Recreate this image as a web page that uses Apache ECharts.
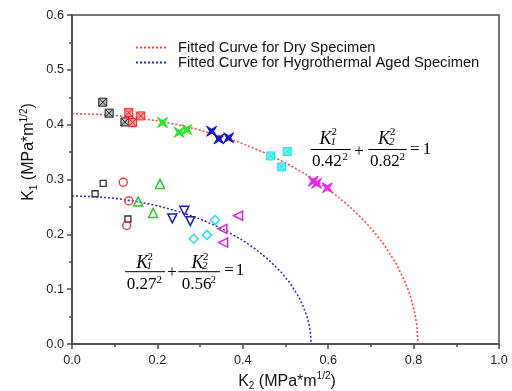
<!DOCTYPE html>
<html>
<head>
<meta charset="utf-8">
<script src="https://cdn.jsdelivr.net/npm/echarts@6/dist/echarts.min.js"></script>
<style>
html,body{margin:0;padding:0;background:#fff;}
#c{width:512px;height:391px;}
</style>
</head>
<body>
<div id="c"></div>
<script>
// ---- data ----
var xTicks = [0, 0.2, 0.4, 0.6, 0.8, 1.0];
var yTicks = [0, 0.1, 0.2, 0.3, 0.4, 0.5, 0.6];

// Dry specimen [K2, K1]
var dryBlack   = [[0.072,0.441],[0.087,0.421],[0.124,0.405]];
var dryRed     = [[0.133,0.422],[0.142,0.404],[0.161,0.416]];
var dryGreen   = [[0.212,0.404],[0.251,0.386],[0.269,0.391]];
var dryBlue    = [[0.327,0.388],[0.344,0.374],[0.367,0.376]];
var dryCyan    = [[0.465,0.343],[0.504,0.351],[0.491,0.323]];
var dryMagenta = [[0.565,0.297],[0.573,0.293],[0.598,0.285]];

// Hygrothermal aged specimen [K2, K1]
var hygBlack   = [[0.054,0.274],[0.073,0.293],[0.131,0.228]];
var hygRed     = [[0.120,0.295],[0.133,0.261],[0.128,0.216]];
var hygGreen   = [[0.155,0.260],[0.190,0.239],[0.206,0.292]];
var hygBlue    = [[0.235,0.229],[0.263,0.243],[0.277,0.224]];
var hygCyan    = [[0.285,0.192],[0.316,0.199],[0.335,0.226]];
var hygMagenta = [[0.352,0.210],[0.354,0.185],[0.389,0.234]];

// Fitted curves (points along the curves)
var dryCurveK2 = [0,0.05,0.1,0.15,0.2,0.25,0.3,0.35,0.4,0.45,0.5,0.55,0.6,0.62,0.65,0.68,0.7,0.73,0.76,0.78,0.79,0.8,0.805,0.808,0.81];
var dryCurveK1 = [0.42,0.4192,0.4168,0.4127,0.407,0.3995,0.3901,0.3788,0.3652,0.3492,0.3304,0.3083,0.2822,0.2703,0.2506,0.2282,0.2113,0.182,0.1453,0.1132,0.0928,0.0658,0.0467,0.0295,0];
var hygCurveK2 = [0,0.05,0.1,0.15,0.2,0.25,0.3,0.35,0.4,0.43,0.46,0.49,0.51,0.53,0.54,0.55,0.555,0.558,0.559,0.56];
var hygCurveK1 = [0.27,0.2689,0.2657,0.2601,0.2522,0.2416,0.228,0.2108,0.189,0.173,0.154,0.1307,0.1115,0.0872,0.0715,0.0508,0.036,0.0228,0.0161,0];

var legendNames = ['Fitted Curve for Dry Specimen','Fitted Curve for Hygrothermal Aged Specimen'];

function zip(a,b){ return a.map(function(v,i){ return [v,b[i]]; }); }

var SQX = 'path://M0,0H10V10H0Z M0,0L10,10 M10,0L0,10';
var STAR = 'path://M0,0L5,3L10,0L7,5L10,10L5,7L0,10L3,5Z';

function sc(data, symbol, size, fill, stroke, bw, rot){
  return {type:'scatter', data:data, symbol:symbol, symbolSize:size, symbolRotate:rot||0,
    itemStyle:{color:fill, borderColor:stroke, borderWidth:bw, opacity:1}, z:5, silent:true};
}

var series = [
  {name:legendNames[0], type:'line', data:zip(dryCurveK2,dryCurveK1), symbol:'none', showSymbol:false,
   lineStyle:{color:'#ff3b3b', width:1.5, type:[2,2]}, itemStyle:{color:'#ff3b3b'}, z:2},
  {name:legendNames[1], type:'line', data:zip(hygCurveK2,hygCurveK1), symbol:'none', showSymbol:false,
   lineStyle:{color:'#2a2aa8', width:1.5, type:[2,2]}, itemStyle:{color:'#2a2aa8'}, z:2},
  sc(dryBlack, SQX, 8, '#b8b8b8', '#222', 1),
  sc(dryRed, SQX, 8, '#ff9a9a', '#ee2222', 1),
  sc(dryGreen, STAR, 10, '#22ee22', '#22dd22', 1),
  sc(dryBlue, STAR, 10, '#1111cc', '#1111cc', 1),
  sc(dryCyan, SQX, 8, '#66f4f8', '#22e0ee', 1),
  sc(dryMagenta, STAR, 10, '#ee22ee', '#ee22ee', 1),
  sc(hygBlack, 'rect', 6, 'rgba(0,0,0,0)', '#333', 1.3),
  sc(hygRed, 'circle', 8, 'rgba(0,0,0,0)', '#e83030', 1.3),
  sc(hygGreen, 'triangle', 9, 'rgba(0,0,0,0)', '#22cc22', 1.5),
  sc(hygBlue, 'triangle', 9, 'rgba(0,0,0,0)', '#1a1acc', 1.5, 180),
  sc(hygCyan, 'diamond', 9, 'rgba(0,0,0,0)', '#22ddee', 1.5),
  sc(hygMagenta, 'triangle', 9, 'rgba(0,0,0,0)', '#e020e0', 1.5, 90)
];

var AX = '#4a4a4a';
function axisCommon(min,max,interval){
  return {type:'value', min:min, max:max, interval:interval,
    axisLine:{show:true, onZero:false, lineStyle:{color:AX, width:1.5}},
    axisTick:{show:true, inside:false, length:5, lineStyle:{color:AX, width:1.5}},
    minorTick:{show:true, splitNumber:2, length:3, lineStyle:{color:AX, width:1.5}},
    splitLine:{show:false}, minorSplitLine:{show:false},
    axisLabel:{color:'#222', fontFamily:'Liberation Sans', fontSize:12.7, margin:9,
      formatter:function(v){ return v.toFixed(1); }}
  };
}
var xAx = axisCommon(xTicks[0], xTicks[xTicks.length-1], xTicks[1]-xTicks[0]);
var yAx = axisCommon(yTicks[0], yTicks[yTicks.length-1], yTicks[1]-yTicks[0]);
xAx.axisLabel.margin = 10;
yAx.axisLabel.margin = 8;

// ---- equation annotations ----
var SERIF = 'Liberation Serif';
function t(x,y,text,size,italic,align){
  return {type:'text', x:x, y:y, silent:true, z:10,
    style:{text:text, fontFamily:SERIF, fontSize:size, fontStyle:italic?'italic':'normal',
      fill:'#000', align:align||'left', verticalAlign:'middle'}};
}
function bar(x1,x2,y){
  return {type:'line', silent:true, z:10, shape:{x1:x1,y1:y,x2:x2,y2:y}, style:{stroke:'#000', lineWidth:1}};
}
var eq = [
  // dry equation
  t(319.5,139.5,'K',18,true), t(330.5,142.5,'1',11,true), t(331.5,132.5,'2',11,false),
  bar(310.7,350.7,149.5),
  t(312,162,'0.42',17,false), t(342.5,157,'2',11,false),
  t(359,151.5,'+',17,false,'center'),
  t(378,139.5,'K',18,true), t(389,142.5,'2',11,true), t(390,132.5,'2',11,false),
  bar(368.3,406.7,149.5),
  t(370,162,'0.82',17,false), t(399.5,157,'2',11,false),
  t(414.8,150,'=',17,false,'center'), t(427,150,'1',17,false,'center'),
  // hygrothermal equation
  t(136.2,263.5,'K',18,true), t(146.5,266.5,'1',11,true), t(147.5,257,'2',11,false),
  bar(125,165,271.7),
  t(126.7,285,'0.27',17,false), t(156.5,280.5,'2',11,false),
  t(172,273,'+',17,false,'center'),
  t(191.4,263.5,'K',18,true), t(202,266.5,'2',11,true), t(203,257,'2',11,false),
  bar(178.3,220,271.7),
  t(181.7,285,'0.56',17,false), t(210.5,280.5,'2',11,false),
  t(229,271,'=',17,false,'center'), t(240,271,'1',17,false,'center')
];

var titleRich = {
  a:{fontFamily:'Liberation Sans', fontSize:16, fill:'#111', lineHeight:20},
  s:{fontFamily:'Liberation Sans', fontSize:10, fill:'#111', verticalAlign:'bottom', lineHeight:20},
  p:{fontFamily:'Liberation Sans', fontSize:10, fill:'#111', verticalAlign:'top', lineHeight:14}
};
var titles = [
  {type:'text', x:287, y:381.5, silent:true,
   style:{text:'{a|K}{s|2}{a| (MPa*m}{p|1/2}{a|)}', rich:titleRich, align:'center', verticalAlign:'middle'}},
  {type:'text', x:29, y:152, rotation:Math.PI/2, silent:true,
   style:{text:'{a|K}{s|1}{a| (MPa*m}{p|1/2}{a|)}', rich:titleRich, align:'center', verticalAlign:'middle'}}
];

var chart = echarts.init(document.getElementById('c'), null, {renderer:'canvas'});
chart.setOption({
  animation:false,
  backgroundColor:'#fff',
  grid:{left:72, right:13, top:15, bottom:47, show:true, borderColor:AX, borderWidth:1.5, backgroundColor:'rgba(0,0,0,0)'},
  xAxis:xAx,
  yAxis:yAx,
  legend:{orient:'vertical', left:135, top:40, padding:0, itemWidth:32, itemHeight:14, itemGap:0,
    data:legendNames, selectedMode:false,
    itemStyle:{opacity:0},
    textStyle:{fontFamily:'Liberation Sans', fontSize:14.7, color:'#111', lineHeight:14, padding:[0,0,0,5]}},
  graphic:eq.concat(titles),
  series:series
});
</script>
</body>
</html>
